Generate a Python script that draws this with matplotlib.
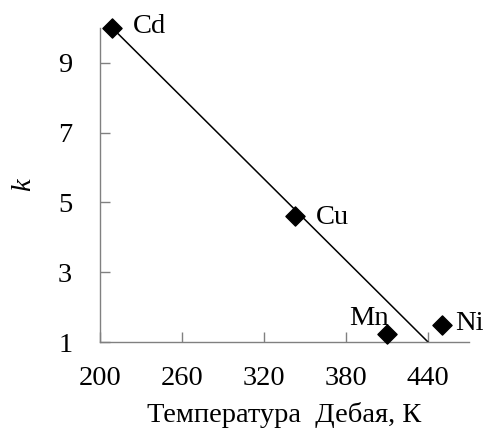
import matplotlib.pyplot as plt
import numpy as np

# Debye temperature (K) vs k for several metals
metals = ["Cd", "Cu", "Mn", "Ni"]
debye_temp = [209, 343, 410, 450]
k_values = [10.0, 4.6, 1.23, 1.5]

# trend line end points
fit_x = [209, 440]
fit_y = [10.0, 1.0]

x_ticks = [200, 260, 320, 380, 440]
y_ticks = [1, 3, 5, 7, 9]

plt.rcParams["font.family"] = ["Liberation Serif", "DejaVu Serif"]

fig = plt.figure(figsize=(4.86, 4.30), dpi=100)
ax = fig.add_axes([100 / 486, 1 - 342 / 430, 369 / 486, 314 / 430])

ax.plot(fit_x, fit_y, color="black", lw=1.1, zorder=2)
ax.scatter(debye_temp, k_values, marker="D", s=95, color="black", zorder=3, clip_on=False)

# labels next to the points
offsets = {"Cd": (15, 1, "left"), "Cu": (15, -1, "left"),
           "Mn": (1, 11, "right"), "Ni": (10, 1, "left")}
for name, x, y in zip(metals, debye_temp, k_values):
    dx, dy, ha = offsets[name]
    ax.annotate(name, (x, y), xytext=(dx, dy), textcoords="offset points",
                ha=ha, va="center", fontsize=20.5)

ax.set_xlim(200, 470)
ax.set_ylim(1, 10)
ax.set_xticks(x_ticks)
ax.set_yticks(y_ticks)

for side in ["top", "right"]:
    ax.spines[side].set_visible(False)
for side in ["left", "bottom"]:
    ax.spines[side].set_color("#808080")
    ax.spines[side].set_linewidth(1.0)

ax.tick_params(direction="in", length=7, width=1, color="#808080", labelsize=20.5)
ax.tick_params(axis="x", pad=17)
ax.tick_params(axis="y", pad=20)

ax.set_xlabel("Температура  Дебая, К", fontsize=20.5, labelpad=8)
ax.set_ylabel("k", fontsize=20.5, style="italic", labelpad=16)

fig.savefig("out.png", dpi=100)
